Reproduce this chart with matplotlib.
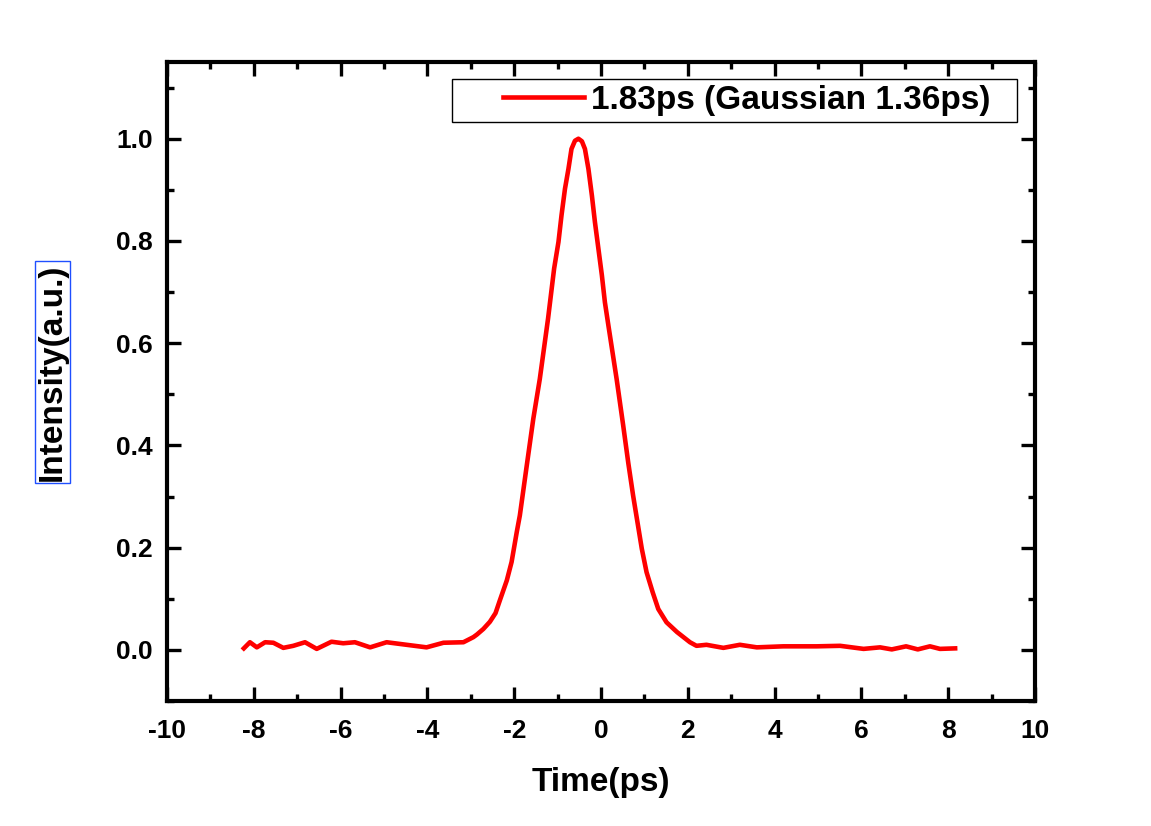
import matplotlib
matplotlib.use("Agg")
import matplotlib.pyplot as plt
from matplotlib.ticker import MultipleLocator
from matplotlib.legend_handler import HandlerLine2D

# 读取的曲线点 (ps, a.u.)
time_ps = [-8.23, -8.09, -7.93, -7.74, -7.55, -7.32, -7.09, -6.82, -6.55, -6.21,
           -5.94, -5.67, -5.32, -4.94, -4.48, -4.02, -3.63, -3.17, -2.94, -2.86,
           -2.71, -2.56, -2.43, -2.33, -2.17, -2.06, -1.94, -1.87, -1.71, -1.56,
           -1.41, -1.22, -1.08, -0.98, -0.91, -0.83, -0.75, -0.68, -0.60,
           -0.52, -0.44, -0.37, -0.29, -0.21, -0.14, -0.06, 0.02, 0.09, 0.17,
           0.36, 0.51, 0.63, 0.74, 0.84, 0.94, 1.05, 1.19, 1.32, 1.51,
           1.75, 1.90, 2.05, 2.20, 2.43, 2.82, 3.20, 3.59, 4.20, 4.97,
           5.51, 6.05, 6.43, 6.70, 7.03, 7.30, 7.58, 7.81, 8.16]
intensity = [0.003, 0.015, 0.005, 0.015, 0.014, 0.004, 0.008, 0.015, 0.002, 0.016,
             0.013, 0.015, 0.005, 0.015, 0.010, 0.005, 0.014, 0.015, 0.025, 0.030,
             0.041, 0.055, 0.072, 0.097, 0.136, 0.172, 0.231, 0.263, 0.361, 0.452,
             0.530, 0.648, 0.746, 0.798, 0.850, 0.902, 0.941, 0.980, 0.996,
             1.000, 0.995, 0.980, 0.941, 0.889, 0.837, 0.785, 0.733, 0.680, 0.635,
             0.530, 0.440, 0.365, 0.302, 0.250, 0.198, 0.152, 0.113, 0.080, 0.054,
             0.035, 0.025, 0.015, 0.008, 0.010, 0.004, 0.010, 0.005, 0.007, 0.007,
             0.008, 0.002, 0.005, 0.001, 0.007, 0.001, 0.007, 0.002, 0.003]
legend_label = "1.83ps (Gaussian 1.36ps)"
x_ticks = [-10, -8, -6, -4, -2, 0, 2, 4, 6, 8, 10]
y_ticks = [0.0, 0.2, 0.4, 0.6, 0.8, 1.0]


class ShiftedLine(HandlerLine2D):
    # 图例线条右移, 左侧留白
    def create_artists(self, legend, orig_handle, xdescent, ydescent,
                       width, height, fontsize, trans):
        shift = 0.36 * width
        return super().create_artists(legend, orig_handle, xdescent - shift,
                                      ydescent, width - shift, height,
                                      fontsize, trans)


plt.rcParams["font.family"] = ["Liberation Sans", "DejaVu Sans"]
plt.rcParams["font.weight"] = "bold"

fig = plt.figure(figsize=(11.51, 8.26), dpi=100)
ax = fig.add_axes([0.1451, 0.1513, 0.7541, 0.7736])

line, = ax.plot(time_ps, intensity, color="red", lw=3.3, label=legend_label)

ax.set_xlim(-10, 10)
ax.set_ylim(-0.1, 1.15)
ax.xaxis.set_minor_locator(MultipleLocator(1))
ax.yaxis.set_minor_locator(MultipleLocator(0.1))
ax.set_xticks(x_ticks)
ax.set_xticklabels([str(v) for v in x_ticks])
ax.set_yticks(y_ticks)
ax.set_yticklabels([f"{v:.1f}" for v in y_ticks])

for s in ax.spines.values():
    s.set_linewidth(3)
ax.tick_params(which="both", direction="in", top=True, right=True,
               width=2.4, labelsize=19)
ax.tick_params(which="major", length=10, pad=10)
ax.tick_params(axis="x", which="major", pad=13)
ax.tick_params(which="minor", length=5)
for lab in ax.get_xticklabels() + ax.get_yticklabels():
    lab.set_fontweight("bold")

ax.set_xlabel("Time(ps)", fontsize=24, fontweight="bold")
ax.xaxis.set_label_coords(0.5, -0.104)
ax.set_ylabel("Intensity(a.u.)", fontsize=24, fontweight="bold",
              bbox=dict(facecolor="none", edgecolor="#1f4fff", lw=1, pad=1.5))
ax.yaxis.set_label_coords(-0.114, 0.515)

leg = ax.legend(handles=[line], loc="upper left", mode="expand",
                bbox_to_anchor=(0.328, 0.5, 0.651, 0.473),
                borderaxespad=0, fancybox=False, framealpha=1,
                prop={"size": 24, "weight": "bold"}, handlelength=3.8,
                borderpad=0.17, handletextpad=0.2,
                handler_map={line: ShiftedLine()})
leg.get_frame().set_edgecolor("black")
leg.get_frame().set_linewidth(1)

fig.savefig("out.png", dpi=100)
